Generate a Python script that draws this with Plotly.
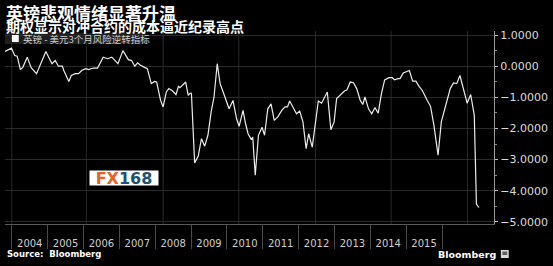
import plotly.graph_objects as go

# ---- data (decimal year, value) ----
dates = [2003.81, 2003.99, 2004.08, 2004.15, 2004.24, 2004.31, 2004.43, 2004.54, 2004.69, 2004.95,
         2005.12, 2005.21, 2005.30, 2005.41, 2005.45, 2005.59, 2005.66, 2005.77, 2005.86, 2005.95,
         2006.06, 2006.14, 2006.27, 2006.39, 2006.55, 2006.67, 2006.79, 2006.96, 2007.10, 2007.25,
         2007.34, 2007.43, 2007.51, 2007.58, 2007.69, 2007.78, 2007.89, 2007.98, 2008.04, 2008.15,
         2008.22, 2008.31, 2008.38, 2008.47, 2008.58, 2008.65, 2008.69, 2008.79, 2008.85, 2008.92,
         2008.97, 2009.01, 2009.10, 2009.20, 2009.29, 2009.38, 2009.47, 2009.56, 2009.64, 2009.73,
         2009.81, 2009.93, 2010.06, 2010.17, 2010.27, 2010.34, 2010.45, 2010.52, 2010.59, 2010.68,
         2010.72, 2010.79, 2010.88, 2010.98, 2011.05, 2011.14, 2011.23, 2011.32, 2011.42, 2011.53,
         2011.62, 2011.69, 2011.75, 2011.84, 2011.94, 2012.03, 2012.12, 2012.21, 2012.28, 2012.38,
         2012.55, 2012.64, 2012.80, 2012.90, 2012.99, 2013.06, 2013.15, 2013.28, 2013.35, 2013.44,
         2013.53, 2013.62, 2013.72, 2013.79, 2013.85, 2013.95, 2014.04, 2014.13, 2014.22, 2014.31,
         2014.40, 2014.52, 2014.61, 2014.68, 2014.77, 2014.83, 2014.92, 2015.01, 2015.09, 2015.18,
         2015.27, 2015.36, 2015.45, 2015.59, 2015.68, 2015.77, 2015.89, 2015.98, 2016.09, 2016.23,
         2016.32, 2016.41, 2016.50, 2016.59, 2016.70, 2016.80, 2016.90, 2016.96, 2017.03]
values = [0.47, 0.58, 0.34, 0.32, -0.11, -0.03, 0.29, -0.05, -0.24, 0.47,
          0.08, 0.18, 0.00, 0.00, -0.14, -0.49, -0.30, -0.24, -0.24, -0.14,
          -0.08, -0.11, -0.06, -0.06, 0.29, 0.24, 0.29, 0.08, 0.50, 0.21,
          0.18, 0.00, 0.11, 0.04, -0.03, -0.08, -0.56, -0.49, -0.51, -1.10,
          -1.31, -0.83, -0.72, -0.78, -0.91, -0.65, -0.69, -0.56, -0.51, -0.94,
          -0.87, -0.87, -3.11, -2.89, -2.33, -2.57, -2.22, -1.47, -0.99, 0.08,
          -0.56, -0.94, -1.37, -1.10, -1.69, -1.93, -1.42, -1.85, -2.17, -2.36,
          -2.28, -3.50, -2.22, -1.96, -2.22, -1.37, -1.21, -1.74, -1.63, -1.42,
          -1.31, -1.31, -1.12, -1.31, -1.53, -1.44, -1.79, -2.65, -2.17, -2.60,
          -1.12, -1.19, -0.83, -2.04, -1.79, -1.04, -0.94, -0.80, -0.76, -0.51,
          -0.53, -0.72, -1.10, -1.23, -0.99, -1.37, -1.53, -1.33, -1.51, -0.88,
          -0.44, -0.37, -0.37, -0.44, -0.40, -0.40, -0.22, -0.19, -0.14, -0.48,
          -0.48, -0.65, -0.78, -1.10, -1.29, -1.87, -2.86, -1.79, -1.29, -0.72,
          -0.54, -0.56, -0.30, -0.67, -1.19, -0.91, -1.58, -4.43, -4.54]

year_labels = ["2004", "2005", "2006", "2007", "2008", "2009", "2010",
               "2011", "2012", "2013", "2014", "2015"]
year_starts = list(range(2004, 2017))
y_ticks = [1, 0, -1, -2, -3, -4, -5]

title = "英镑悲观情绪显著升温"
subtitle = "期权显示对冲合约的成本逼近纪录高点"
series_name = "英镑 - 美元3个月风险逆转指标"

# styling / layout constants
grid_x = [2004.0, 2006.08, 2008.22, 2010.33, 2012.47, 2014.58, 2016.71]
X_RANGE = [2003.81, 2017.45]
Y_RANGE = [-5.07, 1.13]
W, H = 553, 266
ML, MR, MT, MB = 5, 50, 31, 42
PW, PH = W - ML - MR, H - MT - MB

def px(x):
    return (x - ML) / PW

def py(y):
    return (H - MB - y) / PH

fig = go.Figure()
fig.add_trace(go.Scatter(x=dates, y=values, mode="lines",
                         line=dict(color="#ececec", width=1.2),
                         name=series_name, showlegend=False))

shapes = []
for gx in grid_x:
    shapes.append(dict(type="line", xref="x", yref="paper", x0=gx, x1=gx, y0=0, y1=1,
                       line=dict(color="#2a2a2a", width=1), layer="below"))
# legend box + swatch
shapes.append(dict(type="rect", xref="paper", yref="paper",
                   x0=px(5), x1=px(149), y0=py(44), y1=py(33),
                   fillcolor="#1e1e1e", line=dict(width=0), layer="below"))
shapes.append(dict(type="rect", xref="paper", yref="paper",
                   x0=px(12), x1=px(19), y0=py(42), y1=py(35),
                   fillcolor="#ffffff", line=dict(width=0)))
# Bloomberg icon
shapes.append(dict(type="rect", xref="paper", yref="paper",
                   x0=px(510), x1=px(518), y0=py(258), y1=py(250),
                   fillcolor="#d8d8d8", line=dict(width=0)))
shapes.append(dict(type="rect", xref="paper", yref="paper",
                   x0=px(511.5), x1=px(516.5), y0=py(255), y1=py(251.5),
                   fillcolor="#606060", line=dict(width=0)))

mids = [y + 0.5 for y in year_starts[:-1]]

fig.update_layout(
    width=W, height=H,
    margin=dict(l=ML, r=MR, t=MT, b=MB, pad=0),
    paper_bgcolor="black", plot_bgcolor="black",
    shapes=shapes,
    xaxis=dict(range=X_RANGE, tickvals=mids, ticktext=year_labels,
               showgrid=False, zeroline=False, showline=True, linecolor="#5a5a5a", linewidth=1,
               ticks="", ticklabelstandoff=10,
               tickfont=dict(family="DejaVu Sans", size=10, color="#cfcfcf"),
               minor=dict(tickvals=year_starts, ticks="outside", ticklen=24,
                          tickcolor="#4a4a4a", tickwidth=1, showgrid=False)),
    yaxis=dict(range=Y_RANGE, side="right", tickvals=y_ticks, tickformat=".4f",
               showgrid=True, gridcolor="#2a2a2a", gridwidth=1, zeroline=False,
               showline=True, linecolor="#9a9a9a", linewidth=1,
               ticks="outside", ticklen=3, tickcolor="#bbbbbb",
               minor=dict(dtick=0.5, ticks="outside", ticklen=2, tickcolor="#888888", showgrid=False),
               tickfont=dict(family="DejaVu Sans", size=11, color="#dcdcdc")),
    annotations=[
        dict(text=title, xref="paper", yref="paper", x=px(4), y=py(12),
             xanchor="left", yanchor="middle", showarrow=False,
             font=dict(family="Noto Sans CJK SC", size=17, color="white", weight="bold")),
        dict(text=subtitle, xref="paper", yref="paper", x=px(4), y=py(26.5),
             xanchor="left", yanchor="middle", showarrow=False,
             font=dict(family="Noto Sans CJK SC", size=14, color="white", weight="bold")),
        dict(text=series_name,
             xref="paper", yref="paper", x=px(21), y=py(38.5),
             xanchor="left", yanchor="middle", showarrow=False,
             font=dict(family="Noto Sans CJK SC", size=9.5, color="#cfcfcf")),
        dict(text="<span style='color:#e8622a'>FX</span><span style='color:#1d5272'>168</span>",
             xref="paper", yref="paper", x=px(126.5), y=py(177.5),
             xanchor="center", yanchor="middle", showarrow=False,
             width=68, height=14, bgcolor="white", borderpad=0,
             font=dict(family="DejaVu Sans", size=16, weight="bold")),
        dict(text="Source:  Bloomberg", xref="paper", yref="paper", x=px(5), y=py(254),
             xanchor="left", yanchor="middle", showarrow=False,
             font=dict(family="DejaVu Sans", size=8.5, color="white", weight="bold")),
        dict(text="Bloomberg", xref="paper", yref="paper", x=px(507), y=py(254),
             xanchor="right", yanchor="middle", showarrow=False,
             font=dict(family="DejaVu Sans", size=9.5, color="white", weight="bold")),
    ],
)

fig.write_html("out.html")
